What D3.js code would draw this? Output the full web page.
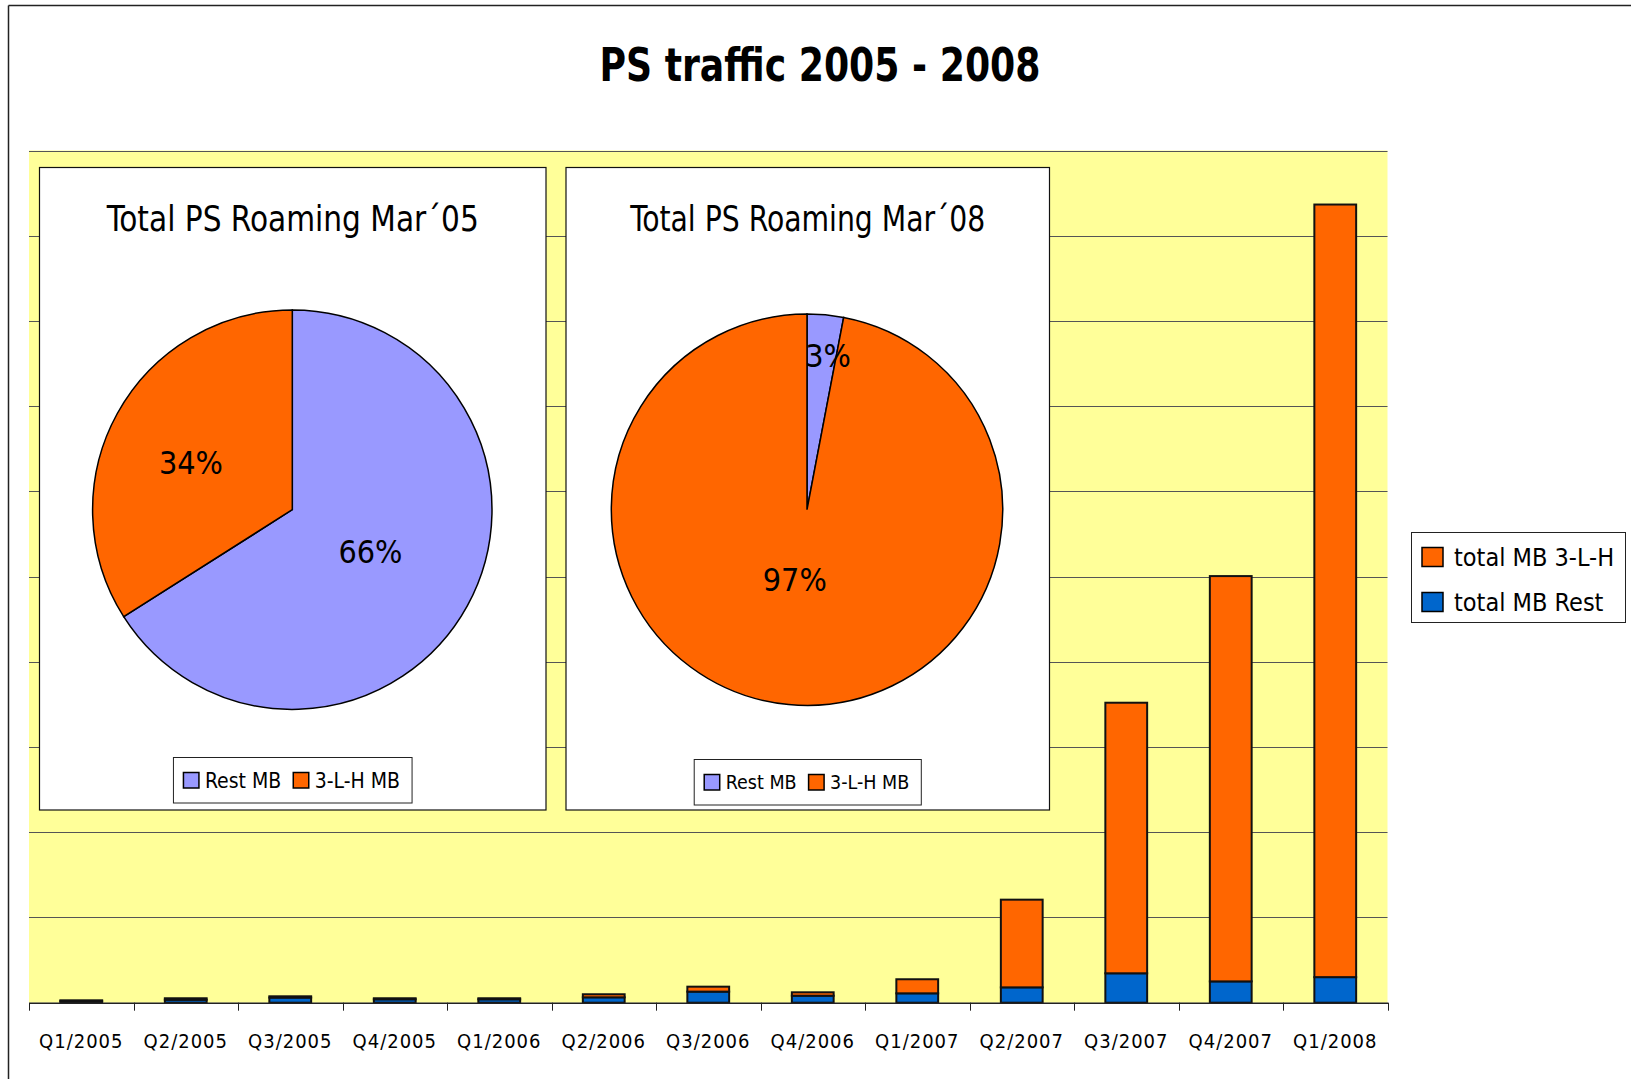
<!DOCTYPE html>
<html>
<head>
<meta charset="utf-8">
<title>PS traffic 2005 - 2008</title>
<style>
    body { margin: 0; background: white; }
    svg text {
        font-family: "DejaVu Sans Condensed", "DejaVu Sans", sans-serif;
        fill: black;
    }
    .frame { stroke: #222; stroke-width: 1.5px; }
    .plotArea { fill: #FFFF99; }
    .grid line { stroke: #555; stroke-width: 1.2px; }
    .bar { stroke: #111; stroke-width: 2px; }
    .box { fill: white; stroke: #111; stroke-width: 1.2px; }
    .slice { stroke: black; stroke-width: 1.5px; }
    .legendBox { fill: white; stroke: #222; stroke-width: 1px; }
    .swatch { stroke: black; stroke-width: 1.5px; }
    .tick-mark { stroke: #222; stroke-width: 1px; }
    .title { font-size: 46px; font-weight: bold; text-anchor: middle; }
    .pieTitle { font-size: 36px; text-anchor: middle; }
    .pieLabel { font-size: 32px; text-anchor: middle; }
    .legendText { font-size: 25px; }
    .xLabel { font-size: 20px; letter-spacing: 1px; }
</style>
</head>
<body>
<script src="https://d3js.org/d3.v7.min.js"></script>
<script>

    const categories = ["Q1/2005", "Q2/2005", "Q3/2005", "Q4/2005", "Q1/2006", "Q2/2006", "Q3/2006",
        "Q4/2006", "Q1/2007", "Q2/2007", "Q3/2007", "Q4/2007", "Q1/2008"];
    const totalRest = [0.018, 0.035, 0.06, 0.04, 0.04, 0.063, 0.13, 0.082, 0.11, 0.18, 0.345, 0.25, 0.30];
    const total3LH = [0.01, 0.017, 0.015, 0.012, 0.012, 0.036, 0.058, 0.04, 0.165, 1.029, 3.175, 4.756, 9.066];
    const seriesNames = ["total MB 3-L-H", "total MB Rest"];
    const gridValues = [1, 2, 3, 4, 5, 6, 7, 8, 9, 10];

    const pieNames = ["Rest MB", "3-L-H MB"];
    const pieMar05 = [66, 34];
    const pieMar08 = [3, 97];

    const W = 1631, H = 1079;
    const orange = "#FF6600", blue = "#0066CC", lavender = "#9999FF";

    const svg = d3.select("body").append("svg").attr("width", W).attr("height", H);

    // outer chart frame (only top and left edges are visible)
    svg.append("line").attr("class", "frame").attr("x1", 8.5).attr("y1", 5.5).attr("x2", W).attr("y2", 5.5);
    svg.append("line").attr("class", "frame").attr("x1", 8.5).attr("y1", 5.5).attr("x2", 8.5).attr("y2", H);

    svg.append("text").attr("class", "title")
        .attr("x", 820).attr("y", 81)
        .attr("textLength", 441).attr("lengthAdjust", "spacingAndGlyphs")
        .text("PS traffic 2005 - 2008");

    const plot = {left: 29, right: 1387.5, top: 150.5, bottom: 1002.7};

    const x = d3.scaleBand()
        .domain(categories)
        .range([plot.left, plot.right])
        .paddingInner(0.6)
        .paddingOuter(0.3);

    const y = d3.scaleLinear().domain([0, 10]).range([plot.bottom, plot.top]);

    svg.append("rect").attr("class", "plotArea")
        .attr("x", plot.left).attr("y", plot.top)
        .attr("width", plot.right - plot.left).attr("height", plot.bottom - plot.top);

    svg.append("g").attr("class", "grid")
        .selectAll("line")
        .data(gridValues)
        .enter().append("line")
        .attr("x1", plot.left).attr("x2", plot.right)
        .attr("y1", d => Math.round(y(d)) + 0.5)
        .attr("y2", d => Math.round(y(d)) + 0.5);

    const rows = categories.map((c, i) => ({cat: c, rest: totalRest[i], lh: total3LH[i]}));
    const stacked = d3.stack().keys(["rest", "lh"])(rows);
    const colors = {rest: blue, lh: orange};

    svg.append("g").selectAll("g")
        .data(stacked)
        .enter().append("g")
        .attr("fill", d => colors[d.key])
        .selectAll("rect")
        .data(d => d)
        .enter().append("rect")
        .attr("class", "bar")
        .attr("x", d => x(d.data.cat))
        .attr("width", x.bandwidth())
        .attr("y", d => y(d[1]))
        .attr("height", d => y(d[0]) - y(d[1]));

    const xAxis = svg.append("g")
        .attr("transform", "translate(0," + plot.bottom + ")")
        .call(d3.axisBottom(x).tickSize(0).tickSizeOuter(0).tickPadding(31));
    xAxis.select(".domain").attr("stroke", "#222").attr("stroke-width", 1.5);
    xAxis.selectAll("text").attr("class", "xLabel");
    xAxis.attr("font-family", null).attr("font-size", null);

    const step = x.step();
    svg.append("g").selectAll("line")
        .data(d3.range(categories.length + 1))
        .enter().append("line")
        .attr("class", "tick-mark")
        .attr("x1", i => Math.round(plot.left + i * step) + 0.5)
        .attr("x2", i => Math.round(plot.left + i * step) + 0.5)
        .attr("y1", plot.bottom).attr("y2", plot.bottom + 8);

    // series legend
    const legend = svg.append("g");
    legend.append("rect").attr("class", "legendBox")
        .attr("x", 1411.5).attr("y", 532.5).attr("width", 214).attr("height", 90);
    const legendItems = legend.selectAll(".item")
        .data(seriesNames)
        .enter().append("g")
        .attr("transform", (d, i) => "translate(1422," + (547.5 + i * 45) + ")");
    legendItems.append("rect").attr("class", "swatch")
        .attr("width", 21).attr("height", 19)
        .attr("fill", (d, i) => i === 0 ? orange : blue);
    legendItems.append("text").attr("class", "legendText")
        .attr("x", 32).attr("y", 9.5).attr("dy", "0.36em")
        .text(d => d);

    // embedded pie charts
    const pies = [
        {title: "Total PS Roaming Mar\u00B405", values: pieMar05, box: [39.5, 167.5, 506.5, 642.5], titleW: 372,
            cx: 292.3, cy: 509.7, r: 199.7, labelR: [0.443, 0.56], labelShift: [-0.8, -3.8],
            legendFont: 21, legendY: 757.5},
        {title: "Total PS Roaming Mar\u00B408", values: pieMar08, box: [566, 167.5, 483.5, 642.5], titleW: 355,
            cx: 807, cy: 509.7, r: 195.7, labelR: [0.794, 0.36], labelShift: [2.4, 4.6],
            legendFont: 19.5, legendY: 759.5}
    ];
    const pieColors = [lavender, orange];
    const pie = d3.pie().sort(null);

    pies.forEach(p => {
        const g = svg.append("g");
        const [bx, by, bw, bh] = p.box;
        g.append("rect").attr("class", "box").attr("x", bx).attr("y", by).attr("width", bw).attr("height", bh);
        g.append("text").attr("class", "pieTitle")
            .attr("x", bx + bw / 2).attr("y", 231)
            .attr("textLength", p.titleW).attr("lengthAdjust", "spacingAndGlyphs")
            .text(p.title);

        const arcs = pie(p.values);
        const arc = d3.arc().innerRadius(0).outerRadius(p.r);
        const pg = g.append("g").attr("transform", "translate(" + p.cx + "," + p.cy + ")");
        pg.selectAll("path")
            .data(arcs)
            .enter().append("path")
            .attr("class", "slice")
            .attr("fill", (d, i) => pieColors[i])
            .attr("d", arc);
        pg.selectAll("text")
            .data(arcs)
            .enter().append("text")
            .attr("class", "pieLabel")
            .attr("transform", (d, i) => {
                const a = (d.startAngle + d.endAngle) / 2 + p.labelShift[i] * Math.PI / 180;
                const rr = p.r * p.labelR[i];
                return "translate(" + (rr * Math.sin(a)) + "," + (-rr * Math.cos(a)) + ")";
            })
            .attr("dy", "0.36em")
            .text(d => d.data + "%");

        // legend, centred under the pie
        const lg = g.append("g");
        const lbox = lg.append("rect").attr("class", "legendBox");
        let cursor = 10;
        pieNames.forEach((name, i) => {
            lg.append("rect").attr("class", "swatch")
                .attr("x", cursor).attr("y", 15).attr("width", 15.5).attr("height", 15.5)
                .attr("fill", pieColors[i]);
            const t = lg.append("text")
                .style("font-size", p.legendFont + "px")
                .attr("x", cursor + 21.5).attr("y", 22.75).attr("dy", "0.36em")
                .text(name);
            cursor += 21.5 + t.node().getComputedTextLength() + 12;
        });
        lbox.attr("x", 0).attr("y", 0).attr("width", cursor).attr("height", 45.5);
        lg.attr("transform", "translate(" + (bx + bw / 2 - cursor / 2) + "," + p.legendY + ")");
    });

</script>
</body>
</html>
